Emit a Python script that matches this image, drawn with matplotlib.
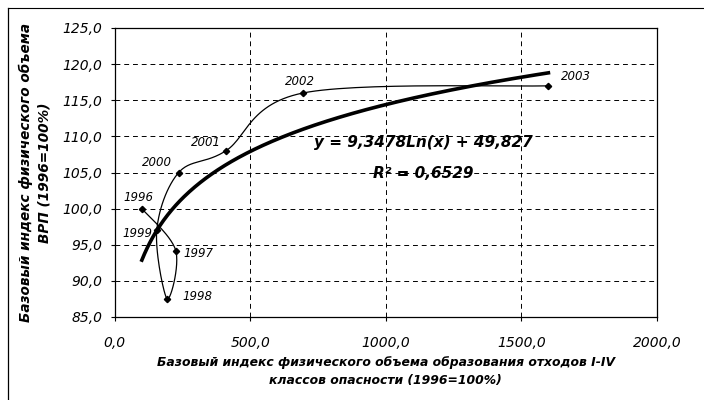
import numpy as np
import matplotlib.pyplot as plt
from matplotlib.lines import Line2D

plt.rcParams['font.family'] = ['DejaVu Sans']

# --- Data ---
years = ['1996', '1997', '1998', '1999', '2000', '2001', '2002', '2003']
waste_idx = [100, 225, 193, 155, 236, 410, 694, 1600]
grp_idx = [100.0, 94.2, 87.5, 97.0, 105.0, 108.0, 116.0, 117.0]

# logarithmic trend shown on the chart
trend_a = 9.3478
trend_b = 49.827
trend_r2 = 0.6529

# label offsets in pixels (dx, dy, ha)
label_pos = {
    '1996': (-3, 11, 'center'),
    '1997': (8, -3, 'left'),
    '1998': (15, 2, 'left'),
    '1999': (-4, -3, 'right'),
    '2000': (-22, 10, 'center'),
    '2001': (-20, 8, 'center'),
    '2002': (-3, 12, 'center'),
    '2003': (13, 9, 'left'),
}


def smooth(x, y, n=30):
    # Catmull-Rom style smoothing like the spreadsheet "smoothed line"
    pts = np.column_stack([x, y]).astype(float)
    p = np.vstack([pts[0], pts, pts[-1]])
    out = []
    t = np.linspace(0, 1, n)
    for i in range(1, len(p) - 2):
        p0, p1, p2, p3 = p[i - 1], p[i], p[i + 1], p[i + 2]
        c1 = p1 + (p2 - p0) / 6
        c2 = p2 - (p3 - p1) / 6
        seg = ((1 - t) ** 3)[:, None] * p1 + (3 * (1 - t) ** 2 * t)[:, None] * c1 \
            + (3 * (1 - t) * t ** 2)[:, None] * c2 + (t ** 3)[:, None] * p2
        out.append(seg)
    out = np.vstack(out)
    return out[:, 0], out[:, 1]


fig = plt.figure(figsize=(7.04, 4.0), dpi=100)
ax = fig.add_axes([0.163, 0.2075, 0.77, 0.7225])

sx, sy = smooth(waste_idx, grp_idx)
ax.plot(sx, sy, color='black', linewidth=0.9, zorder=3)
ax.plot(waste_idx, grp_idx, linestyle='none', marker='D', markersize=3.2,
        color='black', zorder=4)

tx = np.linspace(min(waste_idx), max(waste_idx), 300)
ax.plot(tx, trend_a * np.log(tx) + trend_b, color='black', linewidth=2.6, zorder=3)

for yr, xv, yv in zip(years, waste_idx, grp_idx):
    dx, dy, ha = label_pos[yr]
    ax.annotate(yr, (xv, yv), xytext=(dx, dy), textcoords='offset pixels',
                ha=ha, va='center', fontsize=8.5, style='italic')

ax.text(1137, 109.1, 'y = ' + f'{trend_a}'.replace('.', ',') + 'Ln(x) + '
        + f'{trend_b}'.replace('.', ','), ha='center', va='center',
        fontsize=11, fontweight='bold', style='italic')
ax.text(1137, 104.9, 'R² = ' + f'{trend_r2}'.replace('.', ','),
        ha='center', va='center', fontsize=11, fontweight='bold', style='italic')

ax.set_xlim(0, 2000)
ax.set_ylim(85, 125)
ax.set_xticks(np.arange(0, 2001, 500))
ax.set_yticks(np.arange(85, 126, 5))
ax.set_xticklabels([f'{v:.1f}'.replace('.', ',') for v in np.arange(0, 2001, 500)],
                   fontsize=10, style='italic')
ax.set_yticklabels([f'{v:.1f}'.replace('.', ',') for v in np.arange(85, 126, 5)],
                   fontsize=10, style='italic')
ax.tick_params(axis='y', direction='out', length=3, width=0.8, pad=6)
ax.tick_params(axis='x', direction='out', length=3, width=0.8, pad=11)
ax.grid(True, color='black', linestyle=(0, (5, 4)), linewidth=0.7)
for s in ax.spines.values():
    s.set_color('black')
    s.set_linewidth(0.9)

ax.set_xlabel('Базовый индекс физического объема образования отходов I-IV\n'
              'классов опасности (1996=100%)', fontsize=8.9, fontweight='bold',
              style='italic', labelpad=4, linespacing=1.5)
ax.set_ylabel('Базовый индекс физического объема\nВРП (1996=100%)', fontsize=9.8,
              fontweight='bold', style='italic', labelpad=8, linespacing=1.4)

# outer chart frame (top and left edges)
fig.add_artist(Line2D([8 / 704, 1], [1 - 8 / 400, 1 - 8 / 400],
                      transform=fig.transFigure, color='black', linewidth=0.8))
fig.add_artist(Line2D([8 / 704, 8 / 704], [0, 1 - 8 / 400],
                      transform=fig.transFigure, color='black', linewidth=0.9))

fig.savefig('out.png', dpi=100)
